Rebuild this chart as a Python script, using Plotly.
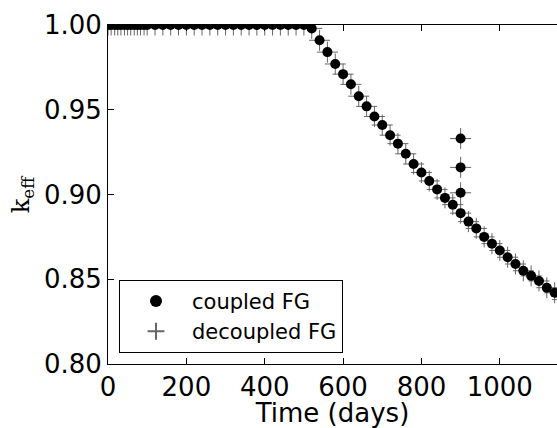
import plotly.graph_objects as go

# Time points (days)
times = [0, 8, 17, 25, 33, 42, 50, 58, 67, 75, 83, 92, 100,
         120, 140, 160, 180, 200, 220, 240, 260, 280, 300, 320, 340, 360, 380,
         400, 420, 440, 460, 480, 500,
         520, 540, 560, 580, 600, 620, 640, 660, 680, 700, 720, 740, 760, 780,
         800, 820, 840, 860, 880, 900, 920, 940, 960, 980, 1000, 1020, 1040,
         1060, 1080, 1100, 1120, 1140, 1160]

coupled = [1.0] * 13 + [1.0] * 20 + [
    0.998, 0.991, 0.984, 0.977, 0.971, 0.965, 0.958, 0.952, 0.946, 0.941,
    0.935, 0.930, 0.924, 0.918, 0.913, 0.908, 0.903, 0.898, 0.894, 0.889,
    0.884, 0.880, 0.875, 0.871, 0.867, 0.863, 0.859, 0.855, 0.852, 0.849,
    0.845, 0.842, 0.838]

decoupled = list(coupled)

# extra points at t = 900 days
extra_times = [900, 900, 900]
extra_vals = [0.933, 0.916, 0.901]

x_all = times + extra_times
coupled_all = coupled + extra_vals
decoupled_all = decoupled + extra_vals

fig = go.Figure()
fig.add_trace(go.Scatter(
    x=x_all, y=decoupled_all, mode="markers", name="decoupled FG",
    legendrank=2,
    marker=dict(symbol="cross-thin", size=15, color="#666666",
                line=dict(width=1, color="#666666"))))
fig.add_trace(go.Scatter(
    x=x_all, y=coupled_all, mode="markers", name="coupled FG",
    legendrank=1,
    marker=dict(symbol="circle", size=10, color="black",
                line=dict(width=0))))

font_fam = "DejaVu Sans, Arial, sans-serif"
fig.update_layout(
    width=557, height=428,
    margin=dict(l=108, r=0, t=25, b=64),
    plot_bgcolor="white", paper_bgcolor="white",
    font=dict(family=font_fam, color="black", size=26),
    showlegend=True,
    legend=dict(x=0.0245, y=0.033, xanchor="left", yanchor="bottom",
                bgcolor="white", bordercolor="black", borderwidth=1,
                font=dict(size=21, family=font_fam, color="black"),
                tracegroupgap=0, itemsizing="constant", itemwidth=62,
                traceorder="normal"),
    annotations=[dict(
        text="k<sub>eff</sub>", xref="paper", yref="paper",
        x=-0.19, y=0.5, xanchor="center", yanchor="middle",
        textangle=-90, showarrow=False,
        font=dict(size=24, family="DejaVu Serif, serif", color="black"))],
)
fig.update_xaxes(
    range=[0, 1146], dtick=200, tick0=0, automargin=False,
    showline=True, linecolor="black", linewidth=1, mirror="allticks",
    ticks="inside", ticklen=6, tickcolor="black",
    showgrid=False, zeroline=False,
    tickfont=dict(size=26, family=font_fam, color="black"),
    title=dict(text="Time (days)", font=dict(size=26, family=font_fam, color="black"), standoff=0),
)
fig.update_yaxes(
    range=[0.80, 1.00], dtick=0.05, tick0=0.80, tickformat=".2f", automargin=False,
    showline=True, linecolor="black", linewidth=1, mirror=False,
    ticks="inside", ticklen=6, tickcolor="black",
    showgrid=False, zeroline=False,
    tickfont=dict(size=26, family=font_fam, color="black"),
)

fig.write_html("out.html",
               config={"displayModeBar": False},
               post_script="document.body.style.margin='0px';document.body.style.overflow='hidden';")
